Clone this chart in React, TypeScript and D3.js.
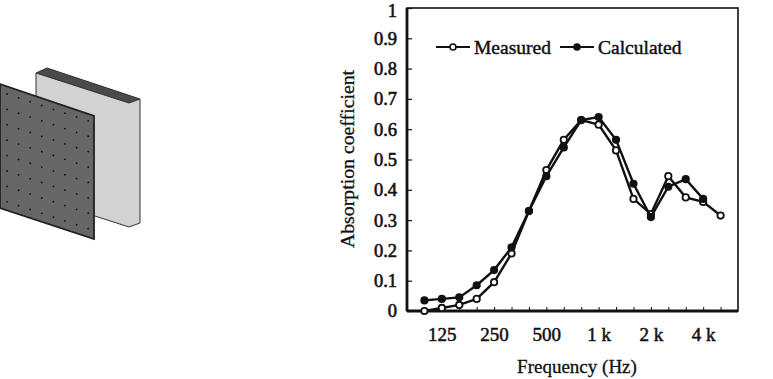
import { useEffect, useRef } from "react"
import { axisBottom, axisLeft, line, range, scaleLinear, scalePoint, select, format } from "d3"

const frequencies = ["100", "125", "160", "200", "250", "315", "400", "500", "630", "800", "1 k", "1.25 k", "1.6 k", "2 k", "2.5 k", "3.15 k", "4 k", "5 k"]
const shownTicks = ["125", "250", "500", "1 k", "2 k", "4 k"]
const measured = [0.0, 0.01, 0.02, 0.04, 0.095, 0.19, 0.33, 0.465, 0.565, 0.63, 0.615, 0.53, 0.37, 0.32, 0.445, 0.375, 0.36, 0.315]
const calculated = [0.035, 0.04, 0.045, 0.085, 0.135, 0.21, 0.33, 0.445, 0.54, 0.63, 0.64, 0.565, 0.42, 0.31, 0.41, 0.435, 0.37]
const yTicks = [0, 0.1, 0.2, 0.3, 0.4, 0.5, 0.6, 0.7, 0.8, 0.9, 1]

const font = "'Liberation Serif', 'Times New Roman', serif"
const ink = "#111"

const margin = { top: 8, left: 407, right: 738, bottom: 311 }
const scaleX = scalePoint<string>().domain(frequencies).range([margin.left, margin.right]).padding(1)
const scaleY = scaleLinear().domain([0, 1]).range([margin.bottom, margin.top])

function Series({ values, fill }: { values: number[]; fill: string }) {
  const gen = line<number>()
    .x((_, i) => scaleX(frequencies[i]) as number)
    .y((d) => scaleY(d))
  return (
    <g>
      <path d={gen(values) as string} fill="none" stroke={ink} strokeWidth={2.4} />
      {values.map((v, i) => (
        <circle key={frequencies[i]} cx={scaleX(frequencies[i])} cy={scaleY(v)} r={3.2} fill={fill} stroke={ink} strokeWidth={1.8} />
      ))}
    </g>
  )
}

function LegendItem({ x, label, fill }: { x: number; label: string; fill: string }) {
  return (
    <g transform={`translate(${x}, 47)`}>
      <line x1={0} x2={34} y1={0} y2={0} stroke={ink} strokeWidth={2.2} />
      <circle cx={17} cy={0} r={3} fill={fill} stroke={ink} strokeWidth={1.6} />
      <text x={38} y={6.5} fontSize={19.5} fontFamily={font} fill={ink} stroke={ink} strokeWidth={0.45}>{label}</text>
    </g>
  )
}

// the perforated panel drawing on the left, not data
function Panel() {
  const cols = range(8)
  const rows = range(8)
  const slope = 31 / 94
  return (
    <g>
      <polygon points="36,73 47,68 140,99 129,103" fill="#4a4a4a" stroke="#333" strokeWidth={1} />
      <polygon points="36,73 129,103 140,99 140,223 129,227 36,197" fill="#d2d2d2" stroke="#333" strokeWidth={1} />
      <polygon points="0,84 94,116 94,239 0,208" fill="#666" stroke="#222" strokeWidth={1.8} />
      {cols.map((c) =>
        rows.map((r) => {
          const x = 7 + c * 11.6
          return <circle key={`${c}-${r}`} cx={x} cy={94 + r * 15.4 + (x - 7) * slope} r={0.9} fill="#111" />
        })
      )}
    </g>
  )
}

export default function App() {
  const xRef = useRef<SVGGElement>(null)
  const yRef = useRef<SVGGElement>(null)

  useEffect(() => {
    if (xRef.current) {
      const ax = axisBottom(scaleX).tickSize(-4).tickPadding(17).tickFormat((d) => (shownTicks.includes(d) ? d : ""))
      const g = select(xRef.current).call(ax)
      g.select(".domain").remove()
      g.selectAll("line").attr("stroke", ink).attr("stroke-width", 1)
      g.selectAll("text").attr("font-size", 19).attr("font-family", font).attr("fill", ink).attr("stroke", ink).attr("stroke-width", 0.5)
    }
    if (yRef.current) {
      const ax = axisLeft(scaleY).tickValues(yTicks).tickSize(-5).tickPadding(10).tickFormat((d) => (d === 0 || d === 1 ? String(d) : format(".1f")(d as number)))
      const g = select(yRef.current).call(ax)
      g.select(".domain").remove()
      g.selectAll("line").attr("stroke", ink).attr("stroke-width", 1.2)
      g.selectAll("text").attr("font-size", 18.5).attr("font-family", font).attr("fill", ink).attr("stroke", ink).attr("stroke-width", 0.6)
      // keep the top label inside the page
      g.selectAll<SVGTextElement, number>("text").filter((d) => d === 1).attr("y", 2.5)
    }
  }, [])

  return (
    <svg width={773} height={379} style={{ position: "absolute", left: 0, top: 0, background: "#fff" }}>
      <Panel />
      <rect x={margin.left} y={margin.top} width={margin.right - margin.left} height={margin.bottom - margin.top} fill="none" stroke={ink} strokeWidth={1.6} />
      <line x1={margin.left} x2={margin.left} y1={margin.top} y2={margin.bottom} stroke={ink} strokeWidth={2.8} />
      <line x1={margin.left} x2={margin.right} y1={margin.bottom} y2={margin.bottom} stroke={ink} strokeWidth={2.8} />
      <g ref={xRef} transform={`translate(0, ${margin.bottom})`} />
      <g ref={yRef} transform={`translate(${margin.left}, 0)`} />
      <Series values={measured} fill="#fff" />
      <Series values={calculated} fill={ink} />
      <LegendItem x={436} label="Measured" fill="#fff" />
      <LegendItem x={560} label="Calculated" fill={ink} />
      <text x={577} y={373} textAnchor="middle" fontSize={19} fontFamily={font} fill={ink} stroke={ink} strokeWidth={0.3}>Frequency (Hz)</text>
      <text transform="translate(354, 159) rotate(-90)" textAnchor="middle" fontSize={19.8} fontFamily={font} fill={ink} stroke={ink} strokeWidth={0.3}>Absorption coefficient</text>
    </svg>
  )
}
